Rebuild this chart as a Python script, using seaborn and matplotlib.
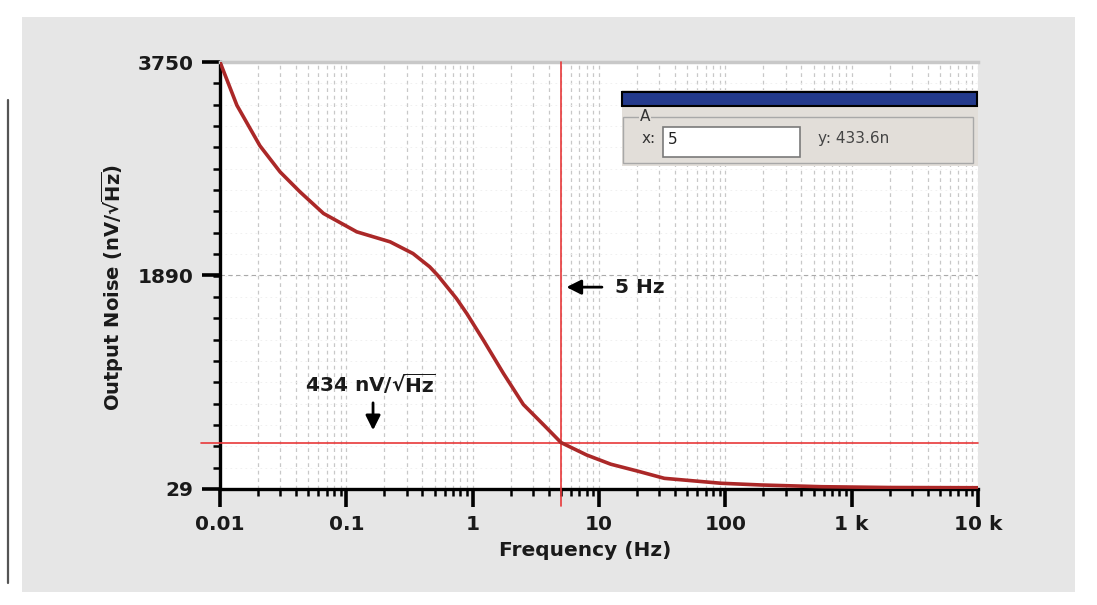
import numpy as np
import matplotlib
matplotlib.use('Agg')
import matplotlib.pyplot as plt
from matplotlib.patches import Rectangle
from matplotlib.ticker import FixedLocator, LogLocator, NullFormatter
import seaborn as sns

# data
freq = [0.01, 0.0136, 0.0207, 0.0299, 0.043, 0.066, 0.121, 0.222, 0.337,
        0.457, 0.53, 0.743, 0.897, 1.216, 1.75, 2.52, 3.63, 5, 8, 12.4,
        20.2, 32.9, 92.5, 192, 575, 2000, 10000]
noise = [3750, 3373, 3020, 2792, 2618, 2430, 2270, 2183, 2081,
         1965, 1890, 1690, 1559, 1326, 1037, 765, 590, 434, 325, 245,
         185, 122, 79, 64, 49, 42, 40]

x_ticks = [0.01, 0.1, 1, 10, 100, 1000, 10000]
x_labels = ['0.01', '0.1', '1', '10', '100', '1 k', '10 k']
y_ticks = [29, 1890, 3750]
cursor_x = 5
cursor_y = 433.6

sns.set_style("white")
plt.rcParams['font.family'] = ['DejaVu Sans']
plt.rcParams['mathtext.fontset'] = 'dejavusans'

W, H = 1097, 605
fig = plt.figure(figsize=(W / 100, H / 100), dpi=100)
fig.patch.set_facecolor('white')


def fx(x):
    return x / W


def fy(y):
    return 1 - y / H


def box(x0, y0, x1, y1, **kw):
    r = Rectangle((fx(x0), fy(y1)), (x1 - x0) / W, (y1 - y0) / H,
                  transform=fig.transFigure, **kw)
    fig.patches.append(r)
    return r


# gray panel behind the chart and stray left line
box(22, 17, 1075, 592, facecolor='#e6e6e6', edgecolor='none', zorder=-2)
fig.add_artist(plt.Line2D([fx(8), fx(8)], [fy(100), fy(583)], color='#555555',
                          lw=1.6, transform=fig.transFigure))

ax = fig.add_axes([fx(220), fy(489), (978 - 220) / W, (489 - 62) / H])
ax.set_zorder(1)
ax.set_facecolor('white')

sns.lineplot(x=freq, y=noise, ax=ax, color='#ab2828', lw=2.6, zorder=4)

ax.set_xscale('log')
ax.set_xlim(0.01, 10000)
ax.set_ylim(29, 3750)

ax.set_xticks(x_ticks, x_labels)
ax.xaxis.set_minor_locator(LogLocator(base=10, subs=np.arange(2, 10)))
ax.xaxis.set_minor_formatter(NullFormatter())
ax.set_yticks(y_ticks, [str(v) for v in y_ticks])
ax.yaxis.set_minor_locator(FixedLocator(np.linspace(29, 3750, 21)))

ax.tick_params(axis='both', which='both', bottom=True, left=True,
               top=False, right=False)
ax.tick_params(axis='both', which='major', length=13, width=2.6, direction='out',
               labelsize=14.5, pad=6, colors='black')
ax.tick_params(axis='both', which='minor', length=5, width=1.8, direction='out',
               colors='black')
for lab in ax.get_xticklabels() + ax.get_yticklabels():
    lab.set_fontweight('bold')
    lab.set_color('#1a1a1a')

ax.grid(which='both', axis='x', color='#c8c8c8', ls=(0, (3, 3)), lw=0.9)
ax.grid(which='major', axis='y', color='#aaaaaa', ls=(0, (4, 3)), lw=0.8)
ax.grid(which='minor', axis='y', color='#eeeeee', ls=(0, (2, 4)), lw=0.6)

for s in ['left', 'bottom']:
    ax.spines[s].set_color('black')
    ax.spines[s].set_linewidth(2.4)
ax.spines['top'].set_color('#c8c8c8')
ax.spines['top'].set_linewidth(2.5)
ax.spines['right'].set_visible(False)

# cursor lines
ax.axvline(cursor_x, ymin=-0.04, ymax=1, color='#e8383a', lw=1.2,
           clip_on=False, zorder=3)
ax.axhline(cursor_y, xmin=-0.025, xmax=1, color='#e8383a', lw=1.2,
           clip_on=False, zorder=3)

# annotations
ax.annotate('', xy=(5.25, 1788), xytext=(11.1, 1788),
            arrowprops=dict(arrowstyle='-|>', color='black', lw=2,
                            mutation_scale=22), zorder=6)
ax.text(13.3, 1788, '5 Hz', ha='left', va='center', fontsize=14.5,
        fontweight='bold', color='#1a1a1a', zorder=6)
ax.annotate('', xy=(0.1627, 517), xytext=(0.1627, 804),
            arrowprops=dict(arrowstyle='-|>', color='black', lw=2,
                            mutation_scale=22), zorder=6)
ax.text(0.047, 952, r'434 nV/√$\overline{\mathbf{Hz}}$', ha='left', va='center',
        fontsize=14.5, fontweight='bold', color='#1a1a1a', zorder=6)

# axis titles
fig.text(fx(585), fy(550), 'Frequency (Hz)', ha='center', va='center',
         fontsize=14.5, fontweight='bold', color='#1a1a1a')
fig.text(fx(113), fy(288), r'Output Noise (nV/√$\overline{\mathbf{Hz}}$)',
         rotation=90, ha='center', va='center', fontsize=14,
         fontweight='bold', color='#1a1a1a')

# cursor read-out dialog (drawn above the axes)
box(622, 90, 978, 166, facecolor='#e2ded9', edgecolor='none', zorder=5)
box(622, 92, 977, 106, facecolor='#243a8c', edgecolor='black', lw=1.5, zorder=6)
box(623, 117, 973, 163, facecolor='none', edgecolor='#a8a8a8', lw=1, zorder=6)
fig.text(fx(645), fy(117), 'A', ha='center', va='center', fontsize=11,
         color='#333333', zorder=7,
         bbox=dict(facecolor='#e2ded9', edgecolor='none', pad=0.5))
fig.text(fx(642), fy(139), 'x:', ha='left', va='center', fontsize=11,
         color='#333333', zorder=7)
box(663, 127, 800, 157, facecolor='white', edgecolor='#7a7a7a', lw=1.2, zorder=6)
fig.text(fx(668), fy(140), '5', ha='left', va='center', fontsize=11,
         color='#222222', zorder=7)
fig.text(fx(818), fy(138), 'y: 433.6n', ha='left', va='center', fontsize=11,
         color='#444444', zorder=7)

plt.savefig('out.png', dpi=100)
